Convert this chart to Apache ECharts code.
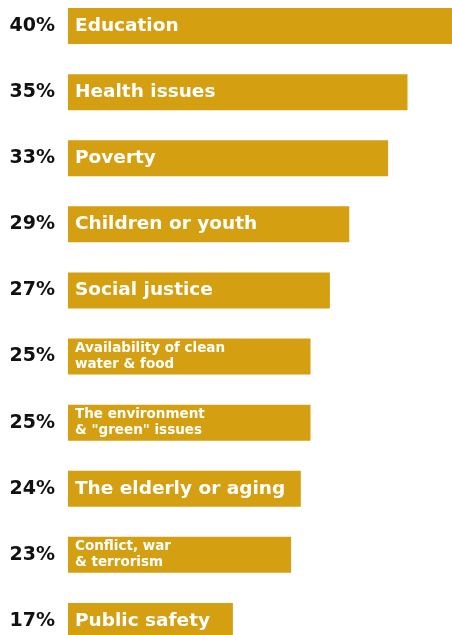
<!DOCTYPE html>
<html>
<head>
<meta charset="utf-8">
<script src="https://cdn.jsdelivr.net/npm/echarts@6/dist/echarts.min.js"></script>
<style>html,body{margin:0;padding:0;background:#fff;overflow:hidden;width:452px;height:635px;position:relative;}#c{position:absolute;left:0;top:-7px;width:460px;height:661px;}</style>
</head>
<body>
<div id="c"></div>
<script>
const categories = ['Education', 'Health issues', 'Poverty', 'Children or youth', 'Social justice',
  'Availability of clean\nwater & food', 'The environment\n& "green" issues', 'The elderly or aging',
  'Conflict, war\n& terrorism', 'Public safety'];
const values = [40, 35, 33, 29, 27, 25, 25, 24, 23, 17];
const pctLabels = ['40%', '35%', '33%', '29%', '27%', '25%', '25%', '24%', '23%', '17%'];

const chart = echarts.init(document.getElementById('c'));
chart.setOption({
  animation: false,
  grid: { left: 68, top: 0, width: 388, height: 661, containLabel: false },
  xAxis: { type: 'value', min: 0, max: 40, show: false },
  yAxis: {
    type: 'category', data: categories, inverse: true,
    axisLine: { show: false }, axisTick: { show: false },
    axisLabel: {
      formatter: (v, i) => pctLabels[i],
      margin: 13, color: '#111', fontSize: 19, fontWeight: 'bold', fontFamily: 'DejaVu Sans'
    }
  },
  series: [{
    type: 'bar',
    data: values.map((v, i) => ({ value: v, name: categories[i] })),
    barWidth: 36,
    itemStyle: { color: '#D4A012' },
    label: {
      show: true, position: 'insideLeft', distance: 7,
      formatter: p => p.name.indexOf('\n') >= 0 ? '{s|' + p.name.split('\n').join('}\n{s|') + '}' : '{b|' + p.name + '}',
      rich: {
        b: { color: '#fff', fontSize: 18.5, fontWeight: 'bold', fontFamily: 'DejaVu Sans' },
        s: { color: '#fff', fontSize: 13.5, fontWeight: 'bold', fontFamily: 'DejaVu Sans', lineHeight: 16 }
      }
    }
  }]
});
</script>
</body>
</html>
